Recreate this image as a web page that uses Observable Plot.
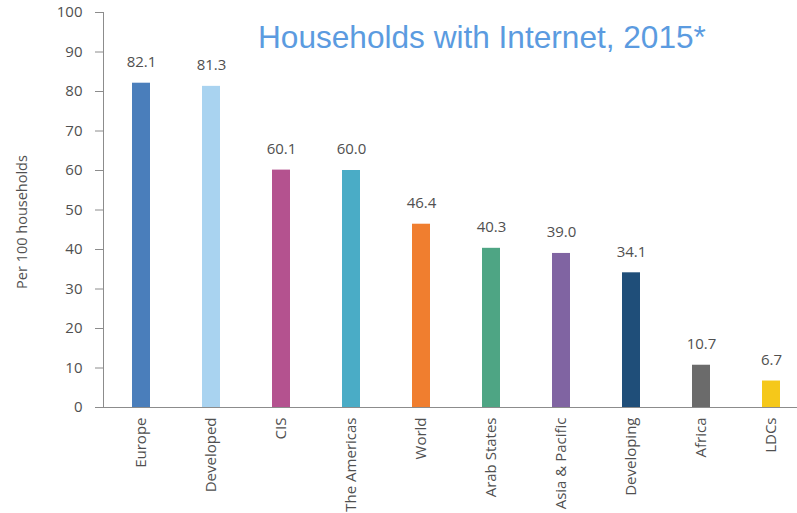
<!DOCTYPE html>
<html>
<head>
<meta charset="utf-8">
<script src="https://cdn.jsdelivr.net/npm/d3@7"></script>
<script src="https://cdn.jsdelivr.net/npm/@observablehq/plot@0.6"></script>
<style>
  body { margin: 0; background: #fff; }
  #wrap { position: relative; width: 797px; height: 513px; }
  #title { position: absolute; left: 258px; top: 22px; line-height: 1; font-family: "Liberation Sans", Arial, sans-serif; font-size: 31.6px; color: #5b9be0; white-space: nowrap; }
  #ylabel { position: absolute; left: 22px; top: 222px; transform: translate(-50%, -50%) rotate(-90deg); font-family: 'Open Sans', 'Noto Sans', sans-serif; font-size: 14.5px; color: #505050; white-space: nowrap; line-height: 1; }
</style>
</head>
<body>
<div id="wrap">
  <div id="chart"></div>
  <div id="title">Households with Internet, 2015*</div>
  <div id="ylabel">Per 100 households</div>
</div>
<script>
const categories = ["Europe", "Developed", "CIS", "The Americas", "World", "Arab States", "Asia & Pacific", "Developing", "Africa", "LDCs"];
const values = [82.1, 81.3, 60.1, 60.0, 46.4, 40.3, 39.0, 34.1, 10.7, 6.7];
const colors = ["#4a7ebb", "#a9d3f0", "#b4528f", "#4aacc6", "#f07e2f", "#4ea584", "#8064a2", "#1f4e79", "#6b6b6b", "#f5c81a"];
const yTicks = [0, 10, 20, 30, 40, 50, 60, 70, 80, 90, 100];

const data = categories.map((c, i) => ({category: c, value: values[i], color: colors[i]}));

const font = "'Open Sans', 'Noto Sans', sans-serif";
const chart = Plot.plot({
  width: 797,
  height: 513,
  marginLeft: 103,
  marginRight: 0,
  marginTop: 12,
  marginBottom: 106,
  style: {fontFamily: font, fontSize: "15px", color: "#505050", background: "#fff"},
  x: {domain: categories, range: [103, 808], paddingInner: 0.745, paddingOuter: 0.3725},
  y: {domain: [0, 100], range: [407, 12]},
  marks: [
    Plot.barY(data, {x: "category", y: "value", fill: "color"}),
    Plot.text(data, {x: "category", y: "value", text: d => d.value.toFixed(1), dy: -21, fill: "#505050", fontSize: 15}),
    Plot.frame({anchor: "left", stroke: "#8c8c8c"}),
    Plot.ruleY([0], {stroke: "#8c8c8c"}),
    Plot.axisY({ticks: yTicks, tickSize: 8, tickPadding: 13, stroke: "#8c8c8c", fill: "#505050", fontSize: 15, label: null}),
    Plot.axisX({tickSize: 0, tickRotate: -90, tickPadding: 10, fontSize: 15, fill: "#505050", label: null})
  ]
});
document.getElementById("chart").appendChild(chart);
</script>
</body>
</html>
